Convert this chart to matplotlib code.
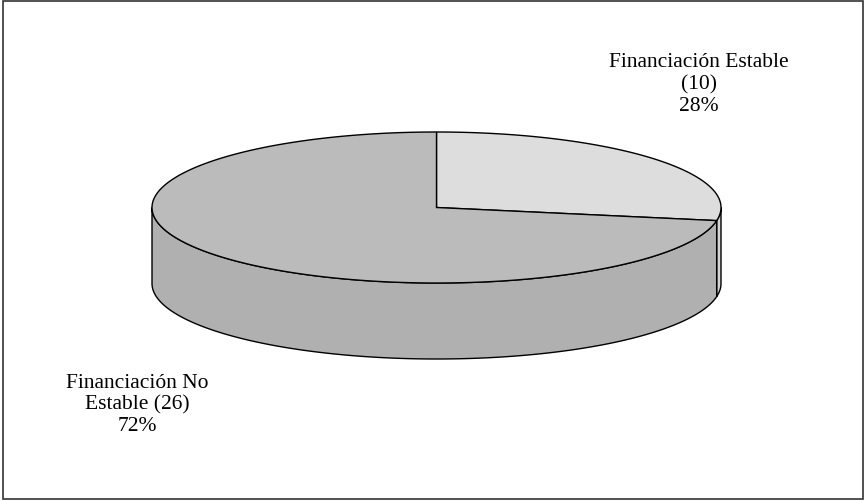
import numpy as np
import matplotlib
matplotlib.use("Agg")
import matplotlib.pyplot as plt
from matplotlib.patches import Polygon, Rectangle

# Data
categories = ["Financiación Estable", "Financiación No Estable"]
values = [10, 26]
labels = ["Financiación Estable\n(10)\n28%", "Financiación No\nEstable (26)\n72%"]
top_colors = ["#dddddd", "#bbbbbb"]
side_colors = ["#d4d4d4", "#b0b0b0"]

W, H = 865, 502
fig = plt.figure(figsize=(W / 100, H / 100), dpi=100)
ax = fig.add_axes([0, 0, 1, 1])
ax.set_xlim(0, W)
ax.set_ylim(H, 0)
ax.axis("off")

cx, cy, rx, ry, depth = 436.5, 208.5, 284.5, 75.5, 76.0


def pt(t, dy=0.0):
    t = np.radians(t)
    return np.column_stack([cx + rx * np.cos(t), cy - ry * np.sin(t) + dy])


total = float(sum(values))
start = 90.0
slices = []
for v in values:
    sweep = 360.0 * v / total
    slices.append((start - sweep, start))
    start -= sweep

# sides (front half: t in [180, 360])
for (t0, t1), col in zip(slices, side_colors):
    for k in (-360, 0, 360):
        a = max(t0 + k, 180.0)
        b = min(t1 + k, 360.0)
        if b > a:
            ts = np.linspace(a, b, 200)
            top = pt(ts)
            bot = pt(ts[::-1], depth)
            poly = Polygon(np.vstack([top, bot]), closed=True, facecolor=col,
                           edgecolor="black", linewidth=1.0, zorder=2)
            ax.add_patch(poly)

# tops
for (t0, t1), col in zip(slices, top_colors):
    ts = np.linspace(t1, t0, 400)
    arc = pt(ts)
    verts = np.vstack([[cx, cy], arc])
    ax.add_patch(Polygon(verts, closed=True, facecolor=col, edgecolor="black",
                         linewidth=1.0, zorder=3))

font = dict(family="Liberation Serif", fontsize=15.5, ha="center", va="center",
            linespacing=1.2, color="black")
ax.text(699, 84.5, labels[0], **font)
ax.text(137, 405, labels[1], **font)

fig.add_artist(Rectangle((3.5 / W, 1 - 499.5 / H), 859.5 / W, 498 / H,
                         transform=fig.transFigure, fill=False,
                         edgecolor="#333333", linewidth=1.2))

fig.savefig("out.png", dpi=100)
